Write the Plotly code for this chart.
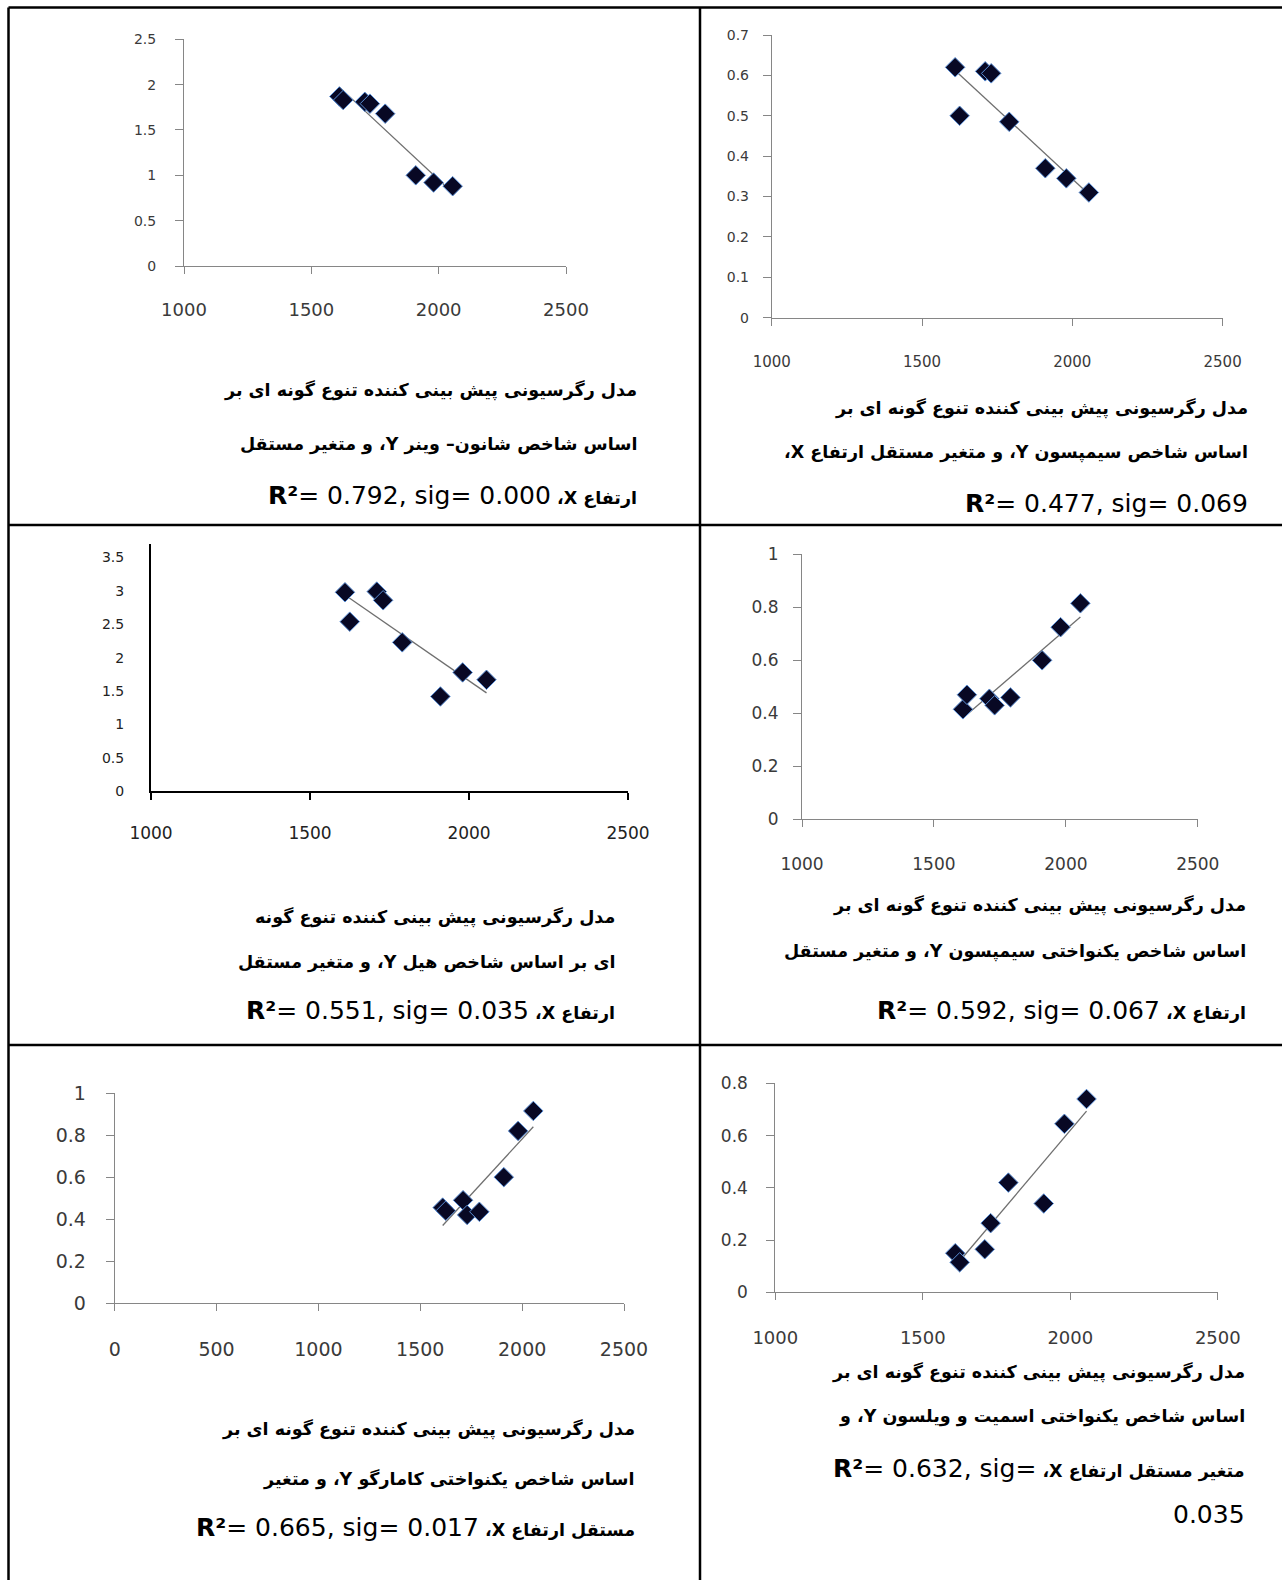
import numpy as np
import plotly.graph_objects as go

W, H = 1282, 1580

# Elevation (independent variable X), shared by all panels
elevation = [1610, 1625, 1710, 1730, 1790, 1910, 1980, 2055]

# Diversity / evenness indices (dependent variable Y)
shannon = [1.87, 1.83, 1.81, 1.79, 1.68, 1.00, 0.92, 0.88]
simpson = [0.62, 0.50, 0.61, 0.605, 0.485, 0.37, 0.345, 0.31]
hill = [2.98, 2.54, 2.99, 2.86, 2.23, 1.42, 1.78, 1.67]
simpson_even = [0.415, 0.47, 0.455, 0.43, 0.46, 0.60, 0.725, 0.815]
camargo_even = [0.455, 0.44, 0.49, 0.42, 0.435, 0.60, 0.82, 0.915]
smith_wilson_even = [0.15, 0.115, 0.165, 0.265, 0.42, 0.34, 0.645, 0.74]

series = [shannon, simpson, hill, simpson_even, camargo_even, smith_wilson_even]

r2_values = ["0.792", "0.477", "0.551", "0.592", "0.665", "0.632"]
sig_values = ["0.000", "0.069", "0.035", "0.067", "0.017", "0.035"]

RLE, RLM, LRM = "\u202b", "\u200f", "\u200e"
SEP = "X" + RLM + "،" + RLM + " "


def lat(s):
    return '<span style="font-size:25px;font-weight:normal"><b>R²</b>' + s + "</span>"


def plain(s):
    return '<span style="font-size:25px;font-weight:normal">' + s + "</span>"


def stat(i, with_sig=True):
    s = "= " + r2_values[i] + ", sig="
    return s + " " + sig_values[i] if with_sig else s + LRM


captions = [
    [RLE + "مدل رگرسیونی پیش بینی کننده تنوع گونه ای بر",
     RLE + "اساس شاخص شانون– وینر Y، و متغیر مستقل",
     RLE + "ارتفاع " + SEP + lat(stat(0))],
    [RLE + "مدل رگرسیونی پیش بینی کننده تنوع گونه ای بر",
     RLE + "اساس شاخص سیمپسون Y، و متغیر مستقل ارتفاع X،",
     lat(stat(1))],
    [RLE + "مدل رگرسیونی پیش بینی کننده تنوع گونه",
     RLE + "ای بر اساس شاخص هیل Y، و متغیر مستقل",
     RLE + "ارتفاع " + SEP + lat(stat(2))],
    [RLE + "مدل رگرسیونی پیش بینی کننده تنوع گونه ای بر",
     RLE + "اساس شاخص یکنواختی سیمپسون Y، و متغیر مستقل",
     RLE + "ارتفاع " + SEP + lat(stat(3))],
    [RLE + "مدل رگرسیونی پیش بینی کننده تنوع گونه ای بر",
     RLE + "اساس شاخص یکنواختی کامارگو Y، و متغیر",
     RLE + "مستقل ارتفاع " + SEP + lat(stat(4))],
    [RLE + "مدل رگرسیونی پیش بینی کننده تنوع گونه ای بر",
     RLE + "اساس شاخص یکنواختی اسمیت و ویلسون Y، و",
     RLE + "متغیر مستقل ارتفاع " + SEP + lat(stat(5, with_sig=False)),
     plain(sig_values[5])],
]

# panel geometry in pixels: x-domain, y-domain (bottom, top), x-range, y-range, dtick
panels = [
    dict(xd=(184, 566), yd=(266, 39.3), xr=(1000, 2500), yr=(0, 2.5), dy=0.5,
         yfs=14, xfs=18, ysd=16, xsd=20, cap_r=639, cap_y=[390, 445, 495], black=False),
    dict(xd=(771.8, 1222.6), yd=(317.7, 35), xr=(1000, 2500), yr=(0, 0.7), dy=0.1,
         yfs=14, xfs=15, ysd=11, xsd=23, cap_r=1250, cap_y=[408, 453, 504], black=False),
    dict(xd=(151, 628), yd=(791.3, 544.2), xr=(1000, 2500), yr=(0, 3.7), dy=0.5,
         yfs=14, xfs=17, ysd=22, xsd=18, cap_r=617, cap_y=[917, 962, 1010], black=True),
    dict(xd=(802, 1197.8), yd=(819.3, 554.3), xr=(1000, 2500), yr=(0, 1), dy=0.2,
         yfs=17, xfs=17, ysd=11, xsd=22, cap_r=1248, cap_y=[905, 951, 1010], black=False),
    dict(xd=(114.7, 624), yd=(1303.2, 1093.1), xr=(0, 2500), yr=(0, 1), dy=0.2,
         yfs=19, xfs=19, ysd=16, xsd=22, cap_r=637, cap_y=[1429, 1479, 1527], black=False),
    dict(xd=(775.3, 1217.8), yd=(1292.4, 1083.3), xr=(1000, 2500), yr=(0, 0.8), dy=0.2,
         yfs=17, xfs=18, ysd=15, xsd=22, cap_r=1247, cap_y=[1372, 1416, 1468, 1514], black=False),
]

fig = go.Figure()
layout = dict(
    width=W, height=H, margin=dict(l=0, r=0, t=0, b=0, pad=0, autoexpand=False),
    paper_bgcolor="white", plot_bgcolor="white", showlegend=False,
    shapes=[], annotations=[],
)

x_arr = np.array(elevation, dtype=float)
for i, (p, ys) in enumerate(zip(panels, series)):
    n = "" if i == 0 else str(i + 1)
    xa, ya = "x" + n, "y" + n
    y_arr = np.array(ys, dtype=float)
    slope, intercept = np.polyfit(x_arr, y_arr, 1)
    xl = np.array([x_arr.min(), x_arr.max()])
    fig.add_trace(go.Scatter(x=xl, y=slope * xl + intercept, mode="lines",
                             line=dict(color="#6f6f6f", width=1.3),
                             xaxis=xa, yaxis=ya, hoverinfo="skip"))
    fig.add_trace(go.Scatter(x=elevation, y=ys, mode="markers",
                             marker=dict(symbol="diamond", size=15, color="#080824",
                                         line=dict(color="#5b8fd6", width=1)),
                             xaxis=xa, yaxis=ya))
    lc = "black" if p["black"] else "#868686"
    lw = 2 if p["black"] else 1
    tf_col = "#222" if p["black"] else "#3a3a3a"
    layout["xaxis" + n] = dict(
        domain=[p["xd"][0] / W, p["xd"][1] / W], anchor=ya, automargin=False,
        range=list(p["xr"]), dtick=500, tick0=0, showgrid=False, zeroline=False,
        showline=True, linecolor=lc, linewidth=lw, ticks="outside", ticklen=7,
        tickcolor=lc, tickwidth=lw, ticklabelstandoff=p["xsd"],
        tickfont=dict(family="DejaVu Sans", size=p["xfs"], color=tf_col),
    )
    layout["yaxis" + n] = dict(
        domain=[1 - p["yd"][0] / H, 1 - p["yd"][1] / H], anchor=xa, automargin=False,
        range=list(p["yr"]), dtick=p["dy"], tick0=0, showgrid=False, zeroline=False,
        showline=True, linecolor=lc, linewidth=lw,
        ticks="" if p["black"] else "outside", ticklen=8, tickcolor=lc, tickwidth=lw,
        ticklabelstandoff=p["ysd"],
        tickfont=dict(family="DejaVu Sans", size=p["yfs"], color=tf_col),
    )
    for line, yy in zip(captions[i], p["cap_y"]):
        layout["annotations"].append(dict(
            text=line, xref="paper", yref="paper",
            x=p["cap_r"] / W, y=1 - yy / H, xanchor="right", yanchor="middle",
            showarrow=False,
            font=dict(family="DejaVu Sans", size=17.5, color="black", weight="bold"),
        ))


def hline(y, x0, x1):
    return dict(type="line", xref="paper", yref="paper", x0=x0 / W, x1=x1 / W,
                y0=1 - y / H, y1=1 - y / H, line=dict(color="black", width=2.5))


def vline(x, y0, y1):
    return dict(type="line", xref="paper", yref="paper", x0=x / W, x1=x / W,
                y0=1 - y0 / H, y1=1 - y1 / H, line=dict(color="black", width=2.5))


layout["shapes"] += [
    hline(7.5, 8.5, W), hline(525, 8.5, W), hline(1045, 8.5, W),
    vline(8.5, 7.5, H), vline(700, 7.5, H),
]

fig.update_layout(**layout)
fig.write_html("out.html")
